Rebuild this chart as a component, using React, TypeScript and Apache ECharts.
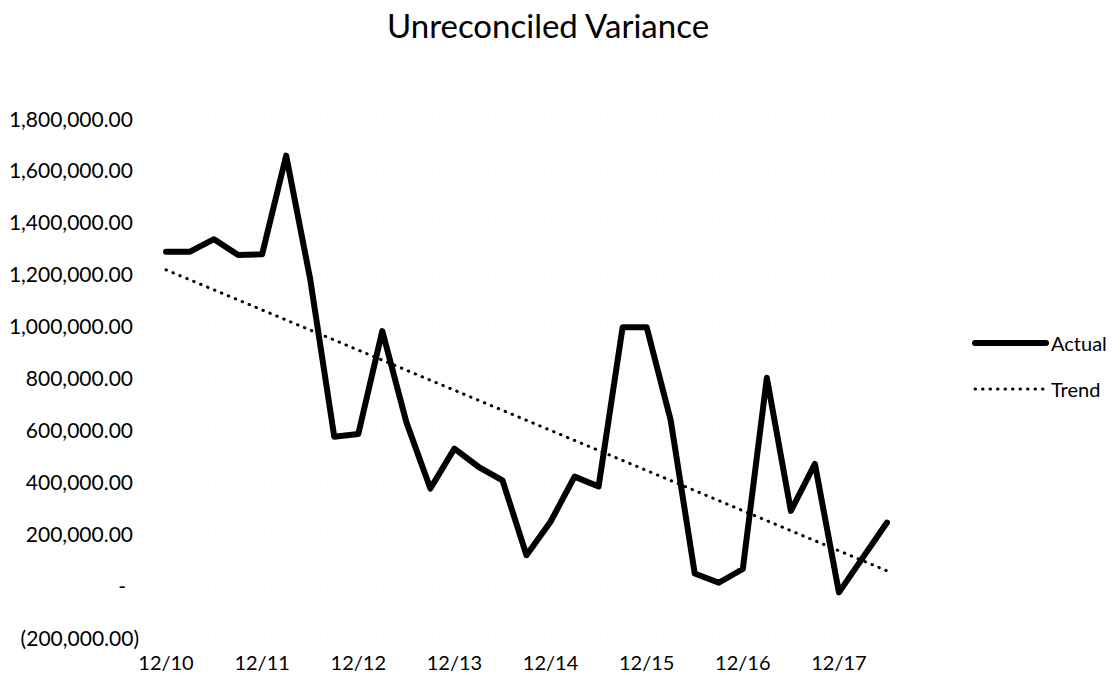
import React, { useEffect, useRef } from 'react';
import * as echarts from 'echarts';

// ---- data ----
const xTickLabels = ['12/10', '12/11', '12/12', '12/13', '12/14', '12/15', '12/16', '12/17'];
const pointsPerTick = 4;
const actualValues = [
  1285000, 1285000, 1333000, 1272000, 1275000, 1655000, 1179000, 572000,
  582000, 979000, 628000, 372000, 526000, 456000, 404000, 115000,
  244000, 418000, 380000, 994000, 994000, 635000, 45000, 9000,
  62000, 799000, 286000, 467000, -28000, 107000, 241000,
];
const trendStart = 1215000;
const trendEnd = 55000;
const yMin = -200000;
const yMax = 1800000;
const yStep = 200000;
const seriesNames = ['Actual', 'Trend'];
const titleText = 'Unreconciled Variance';

const FONT = 'Lato';

function fmtY(v: number): string {
  if (v === 0) return '-{z| }';
  const s = Math.abs(v).toLocaleString('en-US', { minimumFractionDigits: 2, maximumFractionDigits: 2 });
  return v < 0 ? `(${s})` : `${s}{p| }`;
}

export default function App() {
  const ref = useRef<HTMLDivElement>(null);
  useEffect(() => {
    document.body.style.margin = '0';
    if (!ref.current) return;
    const chart = echarts.init(ref.current, undefined, { renderer: 'svg' });
    const categories = actualValues.map((_, i) => String(i));
    const trendData = actualValues.map((_, i) =>
      i === 0 ? trendStart : i === actualValues.length - 1 ? trendEnd : null
    );
    chart.setOption({
      animation: false,
      backgroundColor: '#ffffff',
      title: {
        text: titleText,
        left: 543,
        textAlign: 'center',
        top: 3,
        textStyle: { fontFamily: FONT, fontSize: 33, fontWeight: 'normal', color: '#000' },
      },
      legend: {
        data: seriesNames,
        orient: 'vertical',
        left: 967,
        top: 328,
        itemWidth: 71,
        itemHeight: 14,
        itemGap: 26,
        textStyle: { fontFamily: FONT, fontSize: 20, color: '#000' },
        lineStyle: { width: 'inherit' },
        itemStyle: { color: 'transparent', borderWidth: 0, opacity: 0 },
      },
      grid: { left: 166, right: 225, top: 118, bottom: 44, containLabel: false },
      xAxis: {
        type: 'category',
        data: categories,
        boundaryGap: false,
        axisLine: { show: false },
        axisTick: { show: false },
        splitLine: { show: false },
        axisLabel: {
          interval: pointsPerTick - 1,
          margin: 15,
          fontFamily: FONT,
          fontSize: 20,
          color: '#000',
          formatter: (_v: string, idx: number) => xTickLabels[Math.floor(idx / pointsPerTick)] ?? '',
        },
      },
      yAxis: {
        type: 'value',
        min: yMin,
        max: yMax,
        interval: yStep,
        axisLine: { show: false },
        axisTick: { show: false },
        splitLine: { show: true, lineStyle: { color: '#e8e8e8', type: [1, 6], width: 1 } },
        axisLabel: {
          margin: 27,
          fontFamily: FONT,
          fontSize: 21,
          color: '#000',
          formatter: fmtY,
          rich: {
            p: { width: 6, fontFamily: FONT, fontSize: 21 },
            z: { width: 13, fontFamily: FONT, fontSize: 21 },
          },
        },
      },
      series: [
        {
          name: seriesNames[0],
          type: 'line',
          data: actualValues,
          symbol: 'none',
          showSymbol: false,
          lineStyle: { color: '#000', width: 6, join: 'round', cap: 'round' },
          itemStyle: { color: '#000' },
          z: 3,
        },
        {
          name: seriesNames[1],
          type: 'line',
          data: trendData,
          connectNulls: true,
          symbol: 'none',
          showSymbol: false,
          lineStyle: { color: '#000', width: 3, type: [0.5, 7], cap: 'round' },
          itemStyle: { color: '#000' },
          z: 2,
        },
      ],
    });
    return () => chart.dispose();
  }, []);
  return <div ref={ref} style={{ width: 1112, height: 681 }} />;
}
